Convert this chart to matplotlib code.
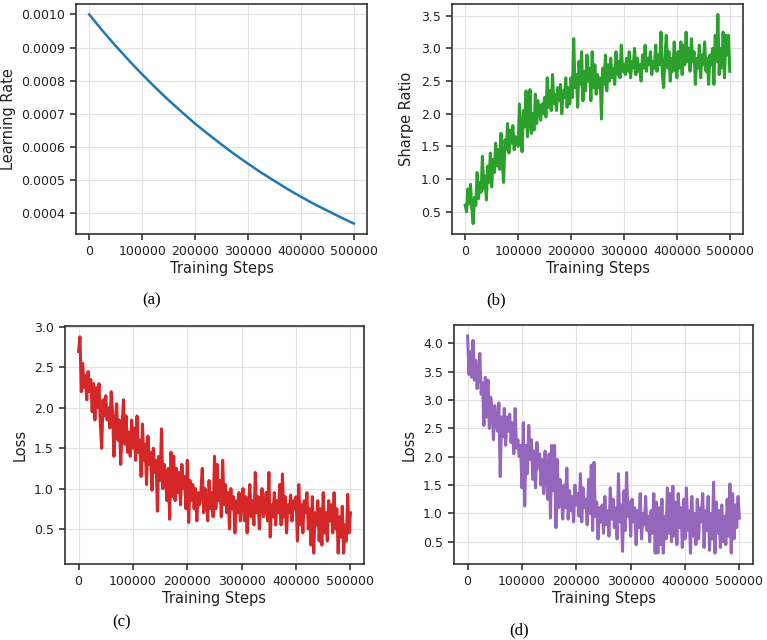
import numpy as np
import matplotlib
matplotlib.use("Agg")
import matplotlib.pyplot as plt

# ---------------- data ----------------
lr_steps = [0, 25000, 50000, 75000, 100000, 125000, 150000, 175000, 200000, 225000,
            250000, 275000, 300000, 325000, 350000, 375000, 400000, 425000, 450000,
            475000, 500000]
learning_rate = [0.001000, 0.000951, 0.000905, 0.000861, 0.000819, 0.000779, 0.000741,
                 0.000705, 0.000670, 0.000638, 0.000607, 0.000577, 0.000549, 0.000522,
                 0.000497, 0.000472, 0.000449, 0.000427, 0.000407, 0.000387, 0.000368]

steps = np.arange(0, 500001, 2500)

sharpe = [
    0.60, 0.50, 0.85, 0.62, 0.92, 0.55, 0.32, 0.72, 0.60, 1.10,
    0.70, 0.95, 0.80, 1.35, 0.85, 1.05, 0.68, 1.20, 0.95, 1.40,
    0.88, 1.30, 1.10, 1.55, 1.20, 1.45, 1.15, 1.70, 1.25, 0.95,
    1.60, 1.45, 1.85, 1.40, 1.75, 1.55, 1.82, 1.45, 1.65, 1.60,
    1.50, 2.15, 1.65, 1.42, 2.05, 1.80, 2.35, 1.65, 1.90, 2.37,
    1.70, 2.00, 1.75, 2.30, 1.85, 2.20, 2.05, 1.90, 2.15, 2.00,
    2.25, 1.95, 2.55, 2.10, 2.35, 2.05, 2.60, 2.15, 2.30, 2.05,
    2.40, 2.20, 2.45, 2.00, 2.35, 2.25, 2.55, 2.10, 2.40, 2.15,
    2.55, 2.25, 3.15, 2.40, 2.60, 2.10, 2.80, 2.45, 2.95, 2.20,
    2.65, 2.35, 2.90, 2.50, 2.70, 2.20, 2.95, 2.40, 2.75, 2.30,
    2.60, 2.40, 2.55, 1.92, 2.70, 2.45, 2.90, 2.35, 2.75, 2.50,
    2.85, 2.55, 2.70, 2.45, 2.95, 2.60, 2.80, 2.55, 3.05, 2.65,
    2.75, 2.60, 2.85, 2.65, 2.95, 2.55, 2.80, 2.70, 3.00, 2.60,
    2.85, 2.65, 2.75, 2.50, 2.90, 2.70, 3.05, 2.65, 2.85, 2.75,
    2.95, 2.60, 2.80, 2.70, 3.05, 2.65, 2.90, 2.75, 3.25, 2.60,
    2.40, 2.85, 3.20, 2.70, 2.95, 2.50, 2.85, 2.65, 3.10, 2.75,
    2.55, 2.95, 2.70, 3.10, 2.60, 3.05, 2.75, 3.25, 2.80, 3.00,
    2.65, 3.15, 2.80, 2.95, 2.45, 2.85, 2.70, 3.05, 2.55, 2.90,
    2.75, 3.10, 2.65, 2.85, 2.45, 2.90, 2.75, 3.00, 2.45, 3.20,
    2.80, 3.52, 2.60, 3.00, 2.70, 3.25, 2.55, 3.20, 2.90, 3.20,
    2.65,
]

loss_c = [
    2.70, 2.88, 2.20, 2.55, 2.25, 2.40, 2.10, 2.45, 2.20, 2.35,
    1.95, 2.30, 1.85, 2.25, 2.00, 2.30, 1.80, 1.50, 2.10, 1.90,
    2.15, 1.85, 2.00, 1.75, 2.20, 1.95, 1.40, 1.80, 2.05, 1.60,
    1.85, 1.30, 1.75, 2.10, 1.55, 1.90, 1.45, 1.70, 1.40, 1.85,
    1.50, 1.75, 1.35, 1.90, 1.45, 1.60, 1.15, 1.80, 1.35, 1.55,
    1.05, 1.65, 1.30, 1.45, 0.98, 1.50, 1.20, 1.35, 0.72, 1.40,
    1.10, 1.74, 1.00, 1.30, 1.15, 0.85, 1.25, 0.62, 1.45, 0.90,
    1.40, 0.85, 1.25, 0.95, 1.20, 0.80, 1.30, 1.00, 1.15, 0.75,
    1.35, 0.58, 1.10, 0.85, 1.05, 0.75, 1.00, 0.60, 0.95, 0.80,
    0.95, 1.25, 0.70, 1.00, 0.85, 0.60, 1.10, 0.75, 0.95, 0.65,
    1.40, 0.75, 1.30, 0.85, 1.10, 0.65, 1.35, 0.80, 1.05, 0.70,
    0.95, 0.50, 1.00, 0.75, 0.90, 0.45, 0.85, 0.70, 0.95, 0.60,
    0.85, 1.00, 0.60, 0.90, 0.45, 0.80, 1.05, 0.65, 0.85, 0.55,
    1.20, 0.70, 0.90, 0.50, 0.85, 1.00, 0.65, 0.75, 0.95, 0.60,
    1.20, 0.40, 0.80, 0.65, 0.95, 0.55, 0.85, 0.70, 1.05, 0.55,
    1.18, 0.65, 0.90, 0.45, 0.80, 0.70, 0.92, 0.60, 0.85, 0.75,
    0.90, 0.35, 1.05, 0.55, 0.80, 0.45, 0.85, 0.70, 0.95, 0.50,
    0.75, 0.30, 0.90, 0.20, 0.70, 0.55, 0.85, 0.35, 0.75, 0.30,
    0.95, 0.45, 0.70, 0.35, 0.85, 0.60, 0.80, 0.45, 0.95, 0.50,
    0.75, 0.20, 0.65, 0.40, 0.78, 0.20, 0.55, 0.35, 0.93, 0.45,
    0.70,
]

loss_d = [
    4.13, 3.45, 3.85, 3.40, 4.05, 3.35, 3.70, 3.20, 3.45, 3.82,
    3.10, 3.30, 2.55, 3.40, 2.70, 3.35, 2.50, 3.05, 2.85, 2.30,
    2.90, 2.60, 2.45, 2.95, 1.65, 2.70, 2.35, 2.85, 2.20, 2.70,
    2.45, 2.75, 2.25, 2.60, 2.05, 2.85, 2.15, 2.30, 2.00, 2.20,
    1.45, 2.60, 1.13, 2.20, 1.70, 2.55, 1.95, 2.30, 1.60, 2.10,
    1.45, 2.25, 1.80, 2.05, 1.50, 1.95, 1.35, 2.10, 1.70, 1.25,
    2.05, 0.92, 2.20, 1.40, 2.20, 0.75, 1.95, 1.10, 1.60, 1.35,
    0.90, 1.50, 1.10, 1.80, 0.90, 1.40, 1.05, 1.30, 0.85, 1.50,
    1.15, 1.35, 0.95, 1.70, 0.85, 1.45, 1.10, 1.25, 0.80, 1.60,
    1.00, 1.85, 0.70, 1.90, 0.95, 1.20, 0.55, 1.10, 0.85, 1.15,
    0.65, 1.30, 0.80, 1.05, 0.60, 1.45, 0.90, 1.25, 0.75, 1.10,
    0.55, 1.70, 0.85, 1.15, 0.33, 1.40, 0.70, 1.72, 0.95, 1.20,
    0.60, 1.25, 0.85, 1.10, 0.45, 1.05, 0.75, 1.35, 0.55, 1.00,
    0.80, 1.30, 0.70, 0.95, 0.50, 1.05, 0.65, 1.35, 0.30, 1.20,
    0.30, 1.10, 0.45, 1.25, 0.30, 0.95, 0.55, 1.45, 0.65, 1.35,
    0.50, 1.48, 0.60, 1.20, 0.45, 1.35, 0.75, 1.10, 0.40, 1.25,
    0.55, 1.45, 0.70, 1.05, 0.30, 1.30, 0.60, 1.00, 0.45, 1.25,
    0.55, 1.10, 0.85, 1.35, 0.40, 1.05, 0.70, 1.30, 0.35, 1.00,
    0.55, 1.55, 0.30, 1.20, 0.65, 1.05, 0.40, 1.15, 0.50, 0.95,
    0.45, 1.25, 0.60, 1.52, 0.30, 1.35, 0.55, 1.15, 0.75, 1.30,
    0.92,
]

# ---------------- plotting ----------------
W, H = 767, 640
fig = plt.figure(figsize=(W / 100, H / 100), dpi=100)


def box(l, t, r, b):
    return [l / W, 1 - b / H, (r - l) / W, (b - t) / H]


panels = [
    (box(76, 4, 367, 234), lr_steps, learning_rate, "#1f77b4", "Learning Rate", -0.206, 1.8),
    (box(452, 4, 743, 234), steps, sharpe, "#2ca02c", "Sharpe Ratio", -0.131, 2.2),
    (box(65, 326, 364, 564), steps, loss_c, "#d62728", "Loss", -0.124, 2.2),
    (box(454, 325, 753, 564), steps, loss_d, "#9467bd", "Loss", -0.124, 2.2),
]

for rect, x, y, color, ylab, lx, lw in panels:
    ax = fig.add_axes(rect)
    ax.plot(x, y, color=color, lw=lw)
    ax.grid(True, color="#e2e2e2", lw=0.8)
    ax.set_axisbelow(True)
    ax.set_xticks([0, 100000, 200000, 300000, 400000, 500000])
    ax.tick_params(labelsize=9, colors="#222222", length=4.5, width=1.1)
    for s in ax.spines.values():
        s.set_color("#333333")
        s.set_linewidth(1.2)
    ax.set_xlabel("Training Steps", fontsize=10.5, color="#222222", labelpad=2)
    ax.set_ylabel(ylab, fontsize=10.5, color="#222222")
    ax.yaxis.set_label_coords(lx, 0.5)

cap_font = dict(family="Liberation Serif", fontsize=12, ha="center", va="center")
fig.text(152 / W, 1 - 300 / H, "(a)", **cap_font)
fig.text(496 / W, 1 - 300 / H, "(b)", **cap_font)
fig.text(122 / W, 1 - 622 / H, "(c)", **cap_font)
fig.text(519 / W, 1 - 630 / H, "(d)", **cap_font)

fig.savefig("out.png", dpi=100)
